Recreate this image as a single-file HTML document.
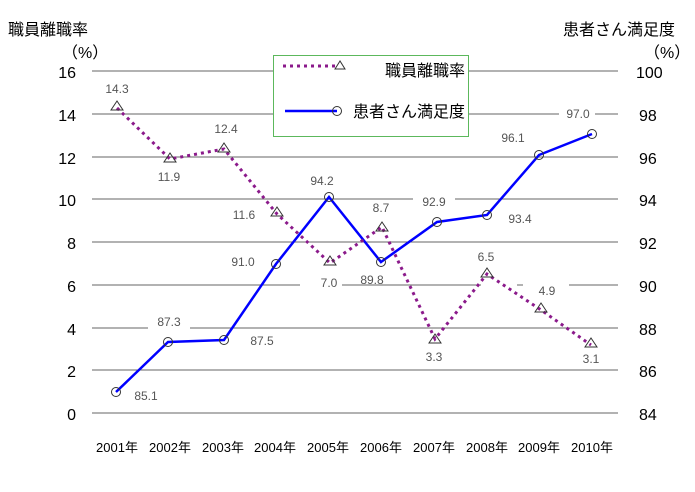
<!DOCTYPE html>
<html><head><meta charset="utf-8"><style>body{margin:0;background:#fff}</style></head><body>
<svg width="695" height="487" xmlns="http://www.w3.org/2000/svg" font-family="Liberation Sans, Noto Sans CJK JP, sans-serif">
<rect width="695" height="487" fill="#fff"/>
<g stroke="#666" stroke-width="1">
<line x1="92" x2="618" y1="71" y2="71"/><line x1="92" x2="618" y1="114" y2="114"/>
<line x1="92" x2="618" y1="157" y2="157"/><line x1="92" x2="618" y1="199" y2="199"/>
<line x1="92" x2="618" y1="242" y2="242"/><line x1="92" x2="618" y1="285" y2="285"/>
<line x1="92" x2="618" y1="328" y2="328"/><line x1="92" x2="618" y1="370" y2="370"/>
<line x1="92" x2="618" y1="413" y2="413"/>
</g>
<g font-size="16" fill="#000">
<text x="8" y="35">職員離職率</text><text x="62" y="58">（%）</text>
<text x="563" y="35">患者さん満足度</text><text x="644" y="58">（%）</text>
</g>
<g font-size="16" text-anchor="end" fill="#000">
<text x="76" y="78">16</text><text x="76" y="121">14</text><text x="76" y="164">12</text><text x="76" y="206">10</text>
<text x="76" y="249">8</text><text x="76" y="292">6</text><text x="76" y="335">4</text><text x="76" y="377">2</text><text x="76" y="420">0</text>
</g>
<g font-size="16" fill="#000">
<text x="636" y="78">100</text><text x="639" y="121">98</text><text x="639" y="164">96</text><text x="639" y="206">94</text>
<text x="639" y="249">92</text><text x="639" y="292">90</text><text x="639" y="335">88</text><text x="639" y="377">86</text><text x="639" y="420">84</text>
</g>
<g font-size="13" text-anchor="middle" fill="#000">
<text x="117" y="452">2001年</text><text x="170" y="452">2002年</text><text x="223" y="452">2003年</text><text x="275" y="452">2004年</text>
<text x="328" y="452">2005年</text><text x="381" y="452">2006年</text><text x="434" y="452">2007年</text><text x="487" y="452">2008年</text>
<text x="539" y="452">2009年</text><text x="592" y="452">2010年</text>
</g>
<g font-size="12" fill="#555" text-anchor="middle">
<g fill="#fff" stroke="none">
<rect x="148" y="320" width="42" height="13"/><rect x="300" y="278" width="42" height="13"/>
<rect x="413" y="197" width="42" height="13"/><rect x="481" y="278" width="36" height="13"/>
<rect x="559" y="106" width="36" height="13"/><rect x="523" y="278" width="46" height="13"/>
</g>
<text x="117" y="93">14.3</text><text x="169" y="181">11.9</text><text x="226" y="133">12.4</text><text x="244" y="219">11.6</text>
<text x="329" y="287">7.0</text><text x="381" y="212">8.7</text><text x="434" y="361">3.3</text><text x="486" y="261">6.5</text>
<text x="547" y="295">4.9</text><text x="591" y="363">3.1</text>
<text x="146" y="400">85.1</text><text x="169" y="326">87.3</text><text x="262" y="345">87.5</text><text x="243" y="266">91.0</text>
<text x="322" y="185">94.2</text><text x="372" y="284">89.8</text><text x="434" y="206">92.9</text><text x="520" y="223">93.4</text>
<text x="513" y="142">96.1</text><text x="578" y="118">97.0</text>
</g>
<polyline fill="none" stroke="#0000ff" stroke-width="2.5" points="116,392 168,342 224,340 276,264 329,197 381,262 437,222 487,215 539,155 592,134"/>
<g fill="none" stroke="#333" stroke-width="1">
<circle cx="116" cy="392" r="4.5"/><circle cx="168" cy="342" r="4.5"/><circle cx="224" cy="340" r="4.5"/><circle cx="276" cy="264" r="4.5"/>
<circle cx="329" cy="197" r="4.5"/><circle cx="381" cy="262" r="4.5"/><circle cx="437" cy="222" r="4.5"/><circle cx="487" cy="215" r="4.5"/>
<circle cx="539" cy="155" r="4.5"/><circle cx="592" cy="134" r="4.5"/>
</g>
<polyline fill="none" stroke="#8b1a8b" stroke-width="3" stroke-dasharray="3,4" points="117,108 170,159 224,149 277,214 330,263 382,227 435,339 487,274 541,310 591,345"/>
<g fill="none" stroke="#333" stroke-width="1">
<path d="M117,101 l-6,9 h12z"/><path d="M170,153 l-6,9 h12z"/><path d="M224,143 l-6,9 h12z"/><path d="M277,207 l-6,9 h12z"/>
<path d="M330,256 l-6,9 h12z"/><path d="M382,222 l-6,9 h12z"/><path d="M435,334 l-6,9 h12z"/><path d="M487,268 l-6,9 h12z"/>
<path d="M541,303 l-6,9 h12z"/><path d="M591,338 l-6,9 h12z"/>
</g>
<rect x="273.5" y="55.5" width="195" height="81" fill="#fff" stroke="#5cb85c" stroke-width="1"/>
<line x1="283" x2="338" y1="66" y2="66" stroke="#8b1a8b" stroke-width="3" stroke-dasharray="3,4"/>
<path d="M340,61 l-5,8 h10z" fill="none" stroke="#333"/>
<line x1="285" x2="337" y1="111" y2="111" stroke="#0000ff" stroke-width="2.5"/>
<circle cx="337" cy="111" r="4.5" fill="none" stroke="#333"/>
<g font-size="16" text-anchor="end" fill="#000"><text x="465" y="76">職員離職率</text><text x="465" y="117">患者さん満足度</text></g>
</svg>
</body></html>
